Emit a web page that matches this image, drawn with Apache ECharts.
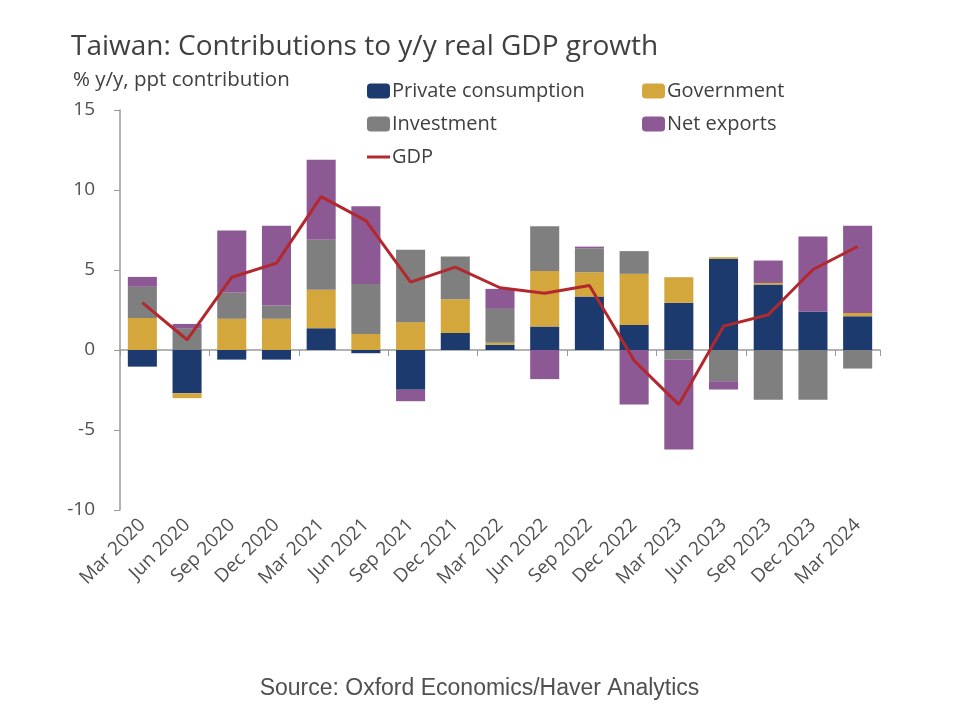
<!DOCTYPE html>
<html><head><meta charset="utf-8">
<script src="https://cdn.jsdelivr.net/npm/echarts@6/dist/echarts.min.js"></script>
<style>html,body{margin:0;padding:0;background:#fff}#c{width:959px;height:714px}</style>
</head><body><div id="c"></div>
<script>
const categories = ['Mar 2020','Jun 2020','Sep 2020','Dec 2020','Mar 2021','Jun 2021','Sep 2021','Dec 2021','Mar 2022','Jun 2022','Sep 2022','Dec 2022','Mar 2023','Jun 2023','Sep 2023','Dec 2023','Mar 2024'];
const privateConsumption = [-1.04,-2.71,-0.6,-0.6,1.36,-0.2,-2.49,1.07,0.32,1.47,3.34,1.57,2.95,5.7,4.09,2.41,2.11];
const government = [2.0,-0.3,1.95,1.95,2.4,1.0,1.74,2.1,0.13,3.46,1.52,3.19,1.6,0.1,0.1,0,0.21];
const investment = [1.95,1.33,1.65,0.83,3.13,3.13,4.52,2.68,2.12,2.81,1.5,1.42,-0.61,-1.95,-3.11,-3.11,-1.16];
const netExports = [0.62,0.3,3.87,4.98,5.0,4.86,-0.71,0,1.25,-1.82,0.1,-3.4,-5.61,-0.52,1.4,4.68,5.44];
const gdp = [2.96,0.64,4.55,5.43,9.59,8.09,4.24,5.18,3.89,3.55,4.03,-0.66,-3.41,1.49,2.2,5.03,6.47];
const yTicks = {min:-10,max:15,interval:5};

const chart = echarts.init(document.getElementById('c'));
const txt = '#404040';
const lbl = '#505050';
const font = 'Open Sans';
const barW = '65%';
function bar(name, data, color){
  return {name, type:'bar', stack:'a', data, barWidth:barW, itemStyle:{color}, xAxisIndex:0, yAxisIndex:0};
}
chart.setOption({
  animation:false,
  title:[
    {text:'Taiwan: Contributions to y/y real GDP growth', left:66, top:28, textStyle:{fontFamily:font, fontSize:28, fontWeight:'normal', color:txt}},
    {text:'% y/y, ppt contribution', left:68, top:65, textStyle:{fontFamily:font, fontSize:20.5, fontWeight:'normal', color:txt}},
    {text:'Source: Oxford Economics/Haver Analytics', left:'center', top:672, textStyle:{fontFamily:'Liberation Sans', fontSize:23, fontWeight:'normal', color:lbl}}
  ],
  legend:[
    {data:['Private consumption','Investment',{name:'GDP', icon:'path://M0,0 L23,0 L23,3 L0,3 Z'}], orient:'vertical', left:362, top:76, itemGap:13, itemWidth:23, itemHeight:15, textStyle:{fontFamily:font, fontSize:20, color:txt, padding:[0,0,0,-3]}},
    {data:['Government','Net exports'], orient:'vertical', left:637, top:76, itemGap:13, itemWidth:23, itemHeight:15, textStyle:{fontFamily:font, fontSize:20, color:txt, padding:[0,0,0,-3]}}
  ],
  grid:{left:120, right:79, top:110, bottom:204},
  xAxis:[
    {type:'category', data:categories, axisLine:{onZero:true, lineStyle:{color:'#9a9a9a', width:1.5}}, axisTick:{show:true, length:6, lineStyle:{color:'#9a9a9a'}}, axisLabel:{show:false}},
    {type:'category', data:categories, position:'bottom', axisLine:{show:false, onZero:false}, axisTick:{show:false}, axisLabel:{rotate:45, margin:12, fontFamily:font, fontSize:19, color:lbl}}
  ],
  yAxis:{type:'value', min:yTicks.min, max:yTicks.max, interval:yTicks.interval, splitLine:{show:false},
    axisLine:{show:true, lineStyle:{color:'#9a9a9a', width:1.5}}, axisTick:{show:true, length:6, lineStyle:{color:'#9a9a9a'}},
    axisLabel:{fontFamily:font, fontSize:19, color:lbl, margin:25}},
  series:[
    bar('Private consumption', privateConsumption, '#1c3a6e'),
    bar('Government', government, '#d3a73c'),
    bar('Investment', investment, '#7f7f7f'),
    bar('Net exports', netExports, '#8d5994'),
    {name:'GDP', type:'line', data:gdp, symbol:'none', lineStyle:{color:'#b3282d', width:3}, itemStyle:{color:'#b3282d'}, z:5}
  ]
});
</script></body></html>
